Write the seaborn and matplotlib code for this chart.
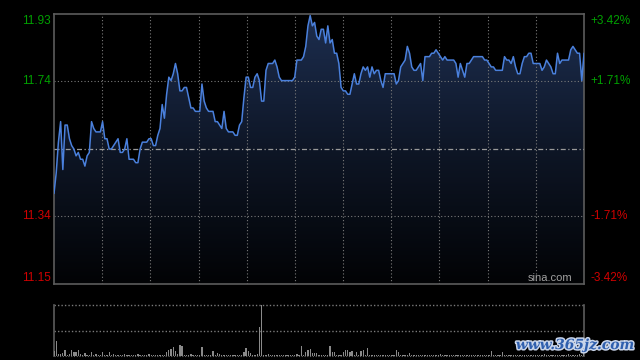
import numpy as np
import matplotlib
matplotlib.use("Agg")
import matplotlib.pyplot as plt
import matplotlib.patheffects as pe
from matplotlib.colors import LinearSegmentedColormap
import seaborn as sns

# ---------------- data ----------------
prev_close = 11.54
max_pct = 3.42
left_labels = ["11.93", "11.74", "11.34", "11.15"]
right_labels = ["+3.42%", "+1.71%", "-1.71%", "-3.42%"]
label_pcts = [3.42, 1.71, -1.71, -3.42]

prices = [
    11.41, 11.47, 11.56, 11.62, 11.48, 11.61, 11.61, 11.57, 11.55, 11.54, 11.52, 11.53, 11.51, 11.51, 11.49, 11.52, 11.53, 11.62, 11.60, 11.59,
    11.59, 11.59, 11.62, 11.57, 11.57, 11.54, 11.54, 11.55, 11.56, 11.57, 11.53, 11.53, 11.54, 11.57, 11.51, 11.51, 11.51, 11.50, 11.50, 11.54,
    11.56, 11.56, 11.56, 11.57, 11.57, 11.55, 11.55, 11.58, 11.60, 11.67, 11.63, 11.70, 11.75, 11.74, 11.76, 11.79, 11.76, 11.71, 11.71, 11.72,
    11.72, 11.69, 11.66, 11.66, 11.65, 11.65, 11.65, 11.73, 11.68, 11.66, 11.65, 11.65, 11.65, 11.62, 11.62, 11.61, 11.60, 11.65, 11.60, 11.59,
    11.59, 11.59, 11.58, 11.58, 11.61, 11.62, 11.69, 11.75, 11.75, 11.72, 11.72, 11.75, 11.76, 11.74, 11.68, 11.68, 11.77, 11.79, 11.79, 11.79,
    11.80, 11.78, 11.75, 11.74, 11.74, 11.74, 11.74, 11.74, 11.74, 11.75, 11.80, 11.80, 11.80, 11.81, 11.84, 11.90, 11.93, 11.90, 11.91, 11.87,
    11.86, 11.89, 11.89, 11.85, 11.90, 11.85, 11.86, 11.82, 11.82, 11.79, 11.72, 11.71, 11.71, 11.70, 11.70, 11.73, 11.76, 11.73, 11.73, 11.76,
    11.78, 11.77, 11.78, 11.75, 11.78, 11.76, 11.77, 11.77, 11.74, 11.72, 11.76, 11.76, 11.76, 11.76, 11.76, 11.73, 11.74, 11.78, 11.79, 11.80,
    11.84, 11.82, 11.78, 11.77, 11.77, 11.78, 11.79, 11.74, 11.81, 11.81, 11.81, 11.82, 11.82, 11.83, 11.82, 11.81, 11.80, 11.81, 11.80, 11.80,
    11.80, 11.80, 11.79, 11.75, 11.79, 11.77, 11.75, 11.79, 11.79, 11.80, 11.81, 11.81, 11.81, 11.81, 11.81, 11.80, 11.80, 11.79, 11.78, 11.78,
    11.77, 11.77, 11.77, 11.77, 11.81, 11.80, 11.80, 11.79, 11.81, 11.78, 11.76, 11.76, 11.79, 11.81, 11.81, 11.82, 11.82, 11.79, 11.79, 11.79,
    11.79, 11.77, 11.78, 11.80, 11.79, 11.78, 11.76, 11.76, 11.82, 11.79, 11.80, 11.80, 11.80, 11.80, 11.83, 11.84, 11.83, 11.82, 11.82, 11.74,
    11.82,
]

volumes = [
    5, 15, 2, 2, 3, 6, 1, 2, 6, 4, 4, 6, 2, 1, 3, 1, 1, 4, 1, 2,
    1, 1, 4, 1, 1, 4, 1, 2, 1, 1, 1, 1, 2, 1, 1, 1, 1, 1, 2, 1,
    1, 1, 1, 2, 1, 1, 1, 1, 1, 1, 1, 4, 6, 7, 9, 5, 2, 11, 10, 1,
    1, 1, 2, 1, 1, 1, 1, 9, 1, 1, 1, 1, 5, 1, 3, 2, 1, 1, 1, 1,
    1, 1, 1, 1, 1, 1, 4, 8, 5, 3, 1, 1, 2, 28, 50, 1, 1, 2, 1, 1,
    1, 1, 1, 1, 1, 1, 1, 1, 1, 1, 2, 1, 10, 1, 4, 6, 7, 3, 3, 3,
    1, 1, 1, 1, 1, 10, 4, 4, 1, 1, 1, 4, 6, 6, 4, 5, 1, 4, 1, 5,
    6, 1, 8, 1, 1, 1, 1, 1, 1, 1, 1, 1, 1, 1, 1, 6, 4, 1, 1, 1,
    1, 3, 1, 1, 1, 1, 1, 1, 1, 1, 1, 1, 1, 1, 1, 2, 1, 1, 1, 1,
    1, 1, 1, 1, 1, 1, 1, 1, 1, 1, 1, 1, 1, 1, 1, 1, 1, 1, 5, 1,
    1, 1, 1, 4, 1, 1, 1, 1, 1, 1, 1, 1, 1, 1, 1, 1, 1, 1, 1, 1,
    1, 1, 2, 1, 1, 1, 1, 1, 1, 1, 1, 1, 1, 2, 1, 1, 1, 1, 2, 1,
    3,
]
minutes = np.arange(len(prices))
n_min = len(prices) - 1

# ---------------- style ----------------
sns.set_theme(style="dark", rc={"axes.facecolor": "black", "figure.facecolor": "black"})
plt.rcParams["font.family"] = ["Liberation Sans", "DejaVu Sans"]

GREEN = "#00a000"
RED = "#d00000"
GRID = "#7a7a7a"
BORDER = "#5c5c5c"

fig = plt.figure(figsize=(6.4, 3.6), dpi=100, facecolor="black")
ax = fig.add_axes([54 / 640, 76 / 360, 530 / 640, 270 / 360])
vax = fig.add_axes([54 / 640, 4 / 360, 530 / 640, 51 / 360])

hi = prev_close * (1 + max_pct / 100)
lo = prev_close * (1 - max_pct / 100)

# gradient fill under the price line
poly = ax.fill_between(minutes, prices, lo, color="none", linewidth=0)
grad = np.linspace(0, 1, 256).reshape(-1, 1)
cmap = LinearSegmentedColormap.from_list("g", ["#020305", "#0e1626", "#1d2e50"])
im = ax.imshow(grad, extent=[0, n_min, lo, hi], origin="lower", aspect="auto",
               cmap=cmap, zorder=1, interpolation="bilinear")
im.set_clip_path(poly.get_paths()[0], transform=ax.transData)

sns.lineplot(x=minutes, y=prices, ax=ax, color="#4a80dc", linewidth=1.1, zorder=4)

ax.set_xlim(0, n_min)
ax.set_ylim(lo, hi)

# grid
for k in range(1, 11):
    ax.axvline(k * n_min / 11, color=GRID, lw=0.8, ls=(0, (1, 2)), zorder=2)
for p in (1.71, -1.71):
    ax.axhline(prev_close * (1 + p / 100), color=GRID, lw=0.8, ls=(0, (1, 2)), zorder=2)
ax.axhline(prev_close, color="#9a9a9a", lw=0.9, ls=(0, (4, 2, 1, 2)), zorder=3)

for s in ax.spines.values():
    s.set_visible(True)
    s.set_color(BORDER)
    s.set_linewidth(1.2)
ax.set_xticks([])
ax.set_yticks([])
ax.set_xlabel("")
ax.set_ylabel("")

# labels
for lab, rlab, p in zip(left_labels, right_labels, label_pcts):
    val = prev_close * (1 + p / 100)
    col = GREEN if p > 0 else RED
    dy = 0
    if p == max_pct:
        dy = -4.7
    elif p == -max_pct:
        dy = 4.3
    ax.annotate(lab, xy=(0, val), xycoords=("axes fraction", "data"),
                xytext=(-2.5, dy), textcoords="offset points",
                ha="right", va="center", color=col, fontsize=8.5)
    ax.annotate(rlab, xy=(1, val), xycoords=("axes fraction", "data"),
                xytext=(4.5, dy), textcoords="offset points",
                ha="left", va="center", color=col, fontsize=8.5)

ax.annotate("sina.com", xy=(0.978, 0), xycoords="axes fraction",
            xytext=(0, 4.3), textcoords="offset points",
            ha="right", va="center", color="#a0a0a0", fontsize=8)

# volume panel
sns.barplot(x=minutes, y=volumes, native_scale=True, ax=vax, color="#8a8a8a",
            width=0.6, linewidth=0, saturation=1, zorder=3)
vmax = max(volumes)
vax.set_xlim(0, n_min)
vax.set_ylim(0, vmax)
vax.axhline(vmax, color=GRID, lw=1.0, ls=(0, (1, 1.5)), zorder=2, clip_on=False)
vax.axhline(vmax / 2, color=GRID, lw=1.0, ls=(0, (1, 1.5)), zorder=2)
vax.axhline(0, color="#666666", lw=0.8, ls=(0, (1, 1.5)), zorder=2, clip_on=False)
for name, s in vax.spines.items():
    if name in ("left", "right"):
        s.set_visible(True)
        s.set_color(BORDER)
        s.set_linewidth(1.2)
    else:
        s.set_visible(False)
vax.set_xticks([])
vax.set_yticks([])
vax.set_xlabel("")
vax.set_ylabel("")

fig.text(575 / 640, 1 - 345 / 360, "www.365jz.com", ha="center", va="center",
         color="#2f5fae", fontsize=10, fontweight="bold", family="DejaVu Serif",
         style="italic",
         path_effects=[pe.withStroke(linewidth=2.2, foreground="#c9d5ea")])

fig.savefig("out.png", dpi=100, facecolor="black")
